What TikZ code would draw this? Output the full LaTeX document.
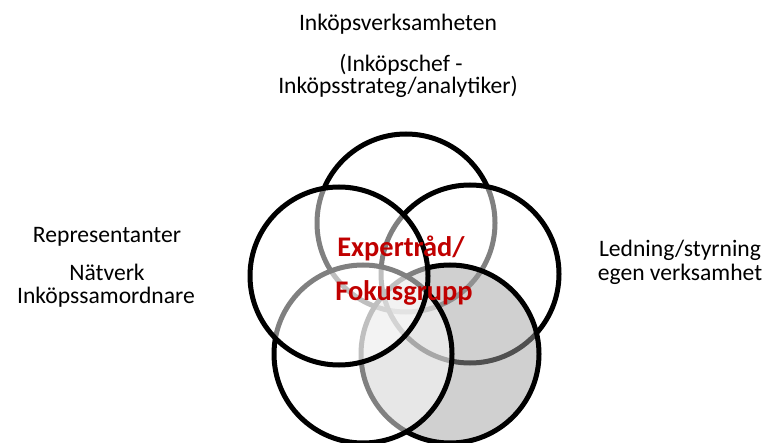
\documentclass[tikz,border=0pt]{standalone}
\usepackage{fontspec}
\setmainfont{Carlito}
\begin{document}
\begin{tikzpicture}[x=1pt,y=-1pt,
  ring/.style={circle, draw=black, line width=5pt, minimum size=178pt,
               inner sep=0pt, fill=white, fill opacity=0.5},
  label/.style={anchor=base, inner sep=0pt, font=\fontsize{23.6}{26}\selectfont},
  core/.style={anchor=base, inner sep=0pt, text=focusred,
               font=\fontsize{28.4}{31}\selectfont\bfseries}]
  \definecolor{focusred}{RGB}{192,0,0}
  \definecolor{ringshade}{RGB}{161,161,161}
  \useasboundingbox (0,0) rectangle (767,443);

  % five overlapping rings, later ones veil the outlines beneath them
  \node[ring] (ctop)   at (406,223) {};
  \node[ring] (cright) at (470,274) {};
  \node[ring, fill=ringshade] (cbr) at (450,354) {};
  \node[ring] (cbl)    at (363,354) {};
  \node[ring] (cleft)  at (339,276) {};

  % centre title
  \node[core] (t1) at (401,257) {Expertråd/};
  \node[core] (t2) at (404,300) {Fokusgrupp};

  % surrounding labels
  \node[label] (a1) at (398,31) {Inköpsverksamheten};
  \node[label] (a2) at (401,72) {(Inköpschef -};
  \node[label] (a3) at (398,94) {Inköpsstrateg/analytiker)};

  \node[label] (b1) at (107,243) {Representanter};
  \node[label] (b2) at (107,280) {Nätverk};
  \node[label] (b3) at (106,303) {Inköpssamordnare};

  \node[label] (c1) at (680,257) {Ledning/styrning};
  \node[label] (c2) at (680,280) {egen verksamhet};
\end{tikzpicture}
\end{document}
